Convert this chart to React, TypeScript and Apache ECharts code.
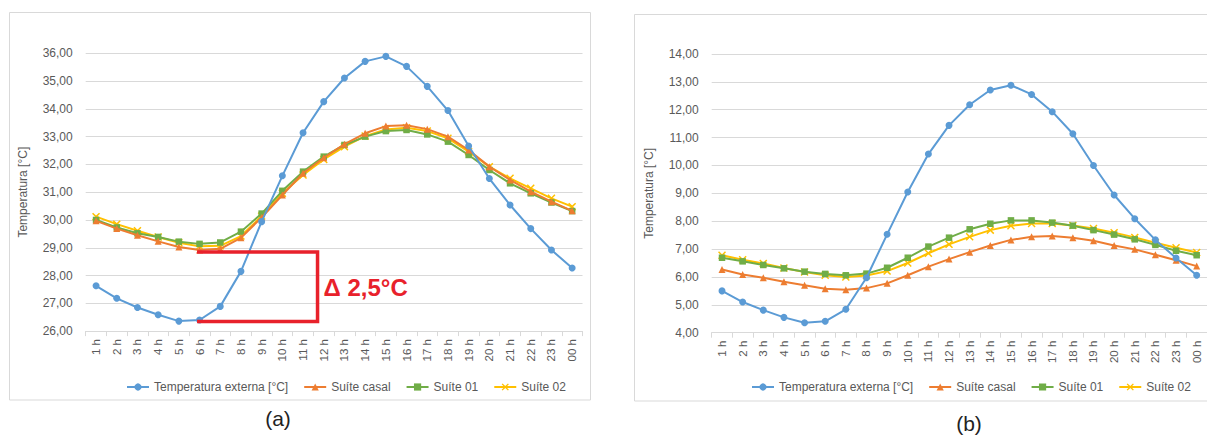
import React, { useEffect, useRef } from 'react';
import * as echarts from 'echarts';

const hours = ['1 h', '2 h', '3 h', '4 h', '5 h', '6 h', '7 h', '8 h', '9 h', '10 h', '11 h', '12 h', '13 h', '14 h', '15 h', '16 h', '17 h', '18 h', '19 h', '20 h', '21 h', '22 h', '23 h', '00 h'];

const seriesNames = ['Temperatura externa [°C]', 'Suíte casal', 'Suíte 01', 'Suíte 02'];

// Chart (a)
const extA = [27.63, 27.18, 26.85, 26.59, 26.36, 26.40, 26.89, 28.15, 29.94, 31.59, 33.14, 34.26, 35.11, 35.71, 35.89, 35.53, 34.81, 33.94, 32.66, 31.49, 30.54, 29.69, 28.92, 28.27];
const casalA = [29.97, 29.69, 29.45, 29.23, 29.03, 28.92, 28.96, 29.36, 30.09, 30.90, 31.68, 32.24, 32.73, 33.12, 33.38, 33.41, 33.27, 33.00, 32.52, 31.92, 31.44, 31.02, 30.66, 30.33];
const s01A = [30.00, 29.73, 29.52, 29.39, 29.22, 29.14, 29.19, 29.58, 30.23, 31.05, 31.74, 32.28, 32.70, 33.00, 33.20, 33.24, 33.08, 32.82, 32.34, 31.80, 31.32, 30.96, 30.63, 30.32];
const s02A = [30.12, 29.85, 29.61, 29.39, 29.18, 29.05, 29.07, 29.42, 30.14, 30.96, 31.62, 32.18, 32.64, 33.02, 33.26, 33.32, 33.20, 32.94, 32.46, 31.92, 31.50, 31.14, 30.78, 30.48];

// Chart (b)
const extB = [5.50, 5.10, 4.81, 4.55, 4.36, 4.41, 4.84, 5.97, 7.53, 9.05, 10.41, 11.44, 12.18, 12.71, 12.88, 12.55, 11.93, 11.14, 10.00, 8.94, 8.09, 7.33, 6.68, 6.06];
const casalB = [6.27, 6.09, 5.97, 5.83, 5.70, 5.58, 5.54, 5.60, 5.77, 6.06, 6.37, 6.64, 6.89, 7.13, 7.33, 7.44, 7.47, 7.41, 7.30, 7.13, 6.99, 6.80, 6.60, 6.39];
const s01B = [6.69, 6.56, 6.43, 6.31, 6.19, 6.11, 6.06, 6.12, 6.33, 6.69, 7.09, 7.41, 7.71, 7.91, 8.03, 8.03, 7.95, 7.84, 7.68, 7.52, 7.35, 7.15, 6.94, 6.78];
const s02B = [6.78, 6.62, 6.48, 6.32, 6.18, 6.06, 6.00, 6.05, 6.21, 6.50, 6.85, 7.17, 7.44, 7.68, 7.84, 7.92, 7.92, 7.85, 7.74, 7.59, 7.42, 7.23, 7.05, 6.88];

const yRangeA = [26, 36];
const yRangeB = [4, 14];

// Annotation on chart (a)
const deltaTop = 28.85;
const deltaBottom = 26.35;
const deltaLabel = 'Δ 2,5°C';

const FONT = "'Liberation Sans', Arial, sans-serif";
const TEXT = '#595959';
const GRID = '#d9d9d9';
const COLORS = ['#5b9bd5', '#ed7d31', '#70ad47', '#ffc000'];
const X_SYMBOL = 'path://M0,1.3L1.3,0L5,3.7L8.7,0L10,1.3L6.3,5L10,8.7L8.7,10L5,6.3L1.3,10L0,8.7L3.7,5Z';
const SYMBOLS = ['circle', 'triangle', 'rect', X_SYMBOL];
const SIZES = [7, 7, 6.5, 8];

function lineSeries(gridIdx: number, data: number[][]) {
  return data.map((d, i) => ({
    name: seriesNames[i],
    type: 'line',
    xAxisIndex: gridIdx,
    yAxisIndex: gridIdx,
    data: d,
    symbol: SYMBOLS[i],
    symbolSize: SIZES[i],
    showSymbol: true,
    lineStyle: { color: COLORS[i], width: 2 },
    itemStyle: { color: COLORS[i] },
    z: 10 - i,
  }));
}

function xAxis(gridIndex: number) {
  return {
    type: 'category',
    gridIndex,
    data: hours,
    boundaryGap: true,
    axisLine: { show: true, lineStyle: { color: GRID, width: 1 } },
    axisTick: { show: true, length: 5, lineStyle: { color: GRID } },
    axisLabel: { rotate: 90, interval: 0, color: TEXT, fontFamily: FONT, fontSize: 11.5, margin: 8 },
    splitLine: { show: false },
  };
}

function yAxis(gridIndex: number, range: number[]) {
  return {
    type: 'value',
    gridIndex,
    min: range[0],
    max: range[1],
    interval: 1,
    name: 'Temperatura [°C]',
    nameLocation: 'middle',
    nameGap: 57,
    nameTextStyle: { color: TEXT, fontFamily: FONT, fontSize: 12 },
    axisLine: { show: false },
    axisTick: { show: false },
    axisLabel: {
      color: TEXT,
      fontFamily: FONT,
      fontSize: 12,
      margin: 13,
      formatter: (v: number) => v.toFixed(2).replace('.', ','),
    },
    splitLine: { show: true, lineStyle: { color: GRID, width: 1 } },
  };
}

function legend(left: number) {
  return {
    left,
    top: 376,
    orient: 'horizontal',
    itemWidth: 22,
    itemHeight: 9,
    itemGap: 15,
    data: seriesNames,
    textStyle: { color: TEXT, fontFamily: FONT, fontSize: 12 },
  };
}

export default function App() {
  const ref = useRef<HTMLDivElement>(null);

  useEffect(() => {
    if (!ref.current) return;
    const chart = echarts.init(ref.current, undefined, { renderer: 'svg' });
    chart.setOption({
      animation: false,
      backgroundColor: '#ffffff',
      grid: [
        { left: 85.7, top: 53.3, width: 496.8, height: 277.8, containLabel: false },
        { left: 711.7, top: 54, width: 496.8, height: 278.7, containLabel: false },
      ],
      xAxis: [xAxis(0), xAxis(1)],
      yAxis: [yAxis(0, yRangeA), yAxis(1, yRangeB)],
      legend: [legend(121), legend(746)],
      series: [
        ...lineSeries(0, [extA, casalA, s01A, s02A]),
        ...lineSeries(1, [extB, casalB, s01B, s02B]),
      ],
    });

    const p0 = chart.convertToPixel({ gridIndex: 0 }, [0, deltaTop]) as number[];
    const p1 = chart.convertToPixel({ gridIndex: 0 }, [1, deltaBottom]) as number[];
    const pStart = chart.convertToPixel({ gridIndex: 0 }, [5, deltaTop]) as number[];
    const pEnd = chart.convertToPixel({ gridIndex: 0 }, [10, deltaTop]) as number[];
    const catW = p1[0] - p0[0];
    const x1 = pStart[0] - 2.5;
    const x2 = pEnd[0] + 0.7 * catW;
    const yT = p0[1];
    const yB = p1[1];

    chart.setOption({
      graphic: [
        {
          type: 'rect',
          shape: { x: 9.5, y: 12.5, width: 581, height: 387.5 },
          style: { fill: 'none', stroke: GRID, lineWidth: 1 },
          silent: true,
        },
        {
          type: 'rect',
          shape: { x: 634.5, y: 14.5, width: 620, height: 386.5 },
          style: { fill: 'none', stroke: GRID, lineWidth: 1 },
          silent: true,
        },
        {
          type: 'polyline',
          shape: { points: [[x1, yT], [x2, yT], [x2, yB], [x1, yB]] },
          style: { fill: 'none', stroke: '#e8212b', lineWidth: 3.5 },
          z: 100,
        },
        {
          type: 'text',
          x: x2 + 6,
          y: (yT + yB) / 2 + 1,
          style: {
            text: deltaLabel,
            fill: '#e8212b',
            font: `bold 24px ${FONT}`,
            verticalAlign: 'middle',
            align: 'left',
          },
          z: 100,
        },
        {
          type: 'text',
          x: 278,
          y: 418,
          style: { text: '(a)', fill: '#222222', font: `21px ${FONT}`, align: 'center', verticalAlign: 'middle' },
        },
        {
          type: 'text',
          x: 969,
          y: 423,
          style: { text: '(b)', fill: '#222222', font: `21px ${FONT}`, align: 'center', verticalAlign: 'middle' },
        },
      ],
    });

    return () => chart.dispose();
  }, []);

  return (
    <div style={{ position: 'absolute', left: 0, top: 0, width: 1207, height: 437, overflow: 'hidden', background: '#fff' }}>
      <div ref={ref} style={{ width: 1207, height: 437 }} />
    </div>
  );
}
